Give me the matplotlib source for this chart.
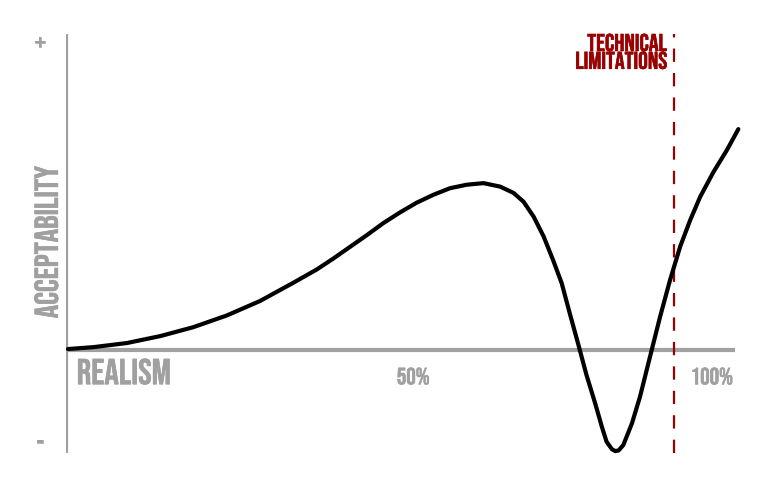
import matplotlib
matplotlib.use('Agg')
import matplotlib.pyplot as plt
import matplotlib.patheffects as pe

# 真实感 (%) 与 接受度 曲线读数
realism = [0.3, 4.1, 9.1, 14.1, 19.0, 24.0, 29.0, 34.0, 37.5, 40.0, 42.5, 45.0,
           47.4, 49.9, 52.4, 54.9, 57.4, 59.9, 62.4, 64.9, 66.9, 68.4, 69.9,
           71.4, 72.8, 74.1, 75.3, 76.6, 77.8, 79.1, 80.1, 80.8, 81.6, 82.1,
           82.6, 83.3, 84.6, 85.8, 87.3, 88.8, 90.3, 91.8, 93.3, 94.8, 96.8,
           98.8, 100.5]
acceptability = [0.3, 0.9, 2.2, 4.4, 7.2, 10.9, 15.5, 21.3, 25.5, 29.0, 32.7, 36.4,
                 40.1, 43.5, 46.6, 49.1, 51.2, 52.3, 52.8, 51.7, 49.7, 46.9, 42.2,
                 35.9, 28.5, 21.1, 11.6, 1.6, -7.9, -16.9, -24.3, -29.0, -31.4, -32.0,
                 -31.8, -30.1, -23.2, -14.8, -2.1, 10.5, 22.2, 32.7, 41.1, 48.5, 56.4,
                 63.3, 69.9]
tech_limit = 90.9
tick_pos = [50, 100]
tick_labels = ['50%', '100%']

GRAY = '#a0a0a0'
RED = '#990000'
FONT = ['Bebas Neue', 'DejaVu Sans']


def heavy(color):
    # 文字稍微加粗
    return [pe.withStroke(linewidth=0.4, foreground=color)]


fig = plt.figure(figsize=(7.82, 4.88), dpi=100)
ax = fig.add_axes([66 / 782, 35 / 488, 669 / 782, 419 / 488])
ax.set_xlim(0, 100)
ax.set_ylim(-32.6, 100)
for s in ax.spines.values():
    s.set_visible(False)
ax.set_xticks([])
ax.set_yticks([])

# 坐标轴
ax.axhline(0, color=GRAY, lw=3, solid_capstyle='butt')
ax.axvline(0, color=GRAY, lw=3, solid_capstyle='butt')

# 技术限制虚线
ax.axvline(tech_limit, color=RED, lw=1.6, ls=(0, (6, 5)))

ax.plot(realism, acceptability, color='black', lw=3, clip_on=False,
        solid_joinstyle='round', solid_capstyle='round')

ax.text(-3.9, 97.5, '+', color=GRAY, fontsize=21, path_effects=heavy(GRAY),
        ha='center', va='center', family=FONT)
ax.text(-3.9, -28.8, '-', color=GRAY, fontsize=21, path_effects=heavy(GRAY),
        ha='center', va='center', family=FONT)
ax.text(-3.0, 34.2, 'ACCEPTABILITY', color=GRAY, fontsize=24, path_effects=heavy(GRAY),
        rotation=90, ha='center', va='center', family=FONT)
ax.text(1.6, -2.6, 'REALISM', color=GRAY, fontsize=26, path_effects=heavy(GRAY),
        ha='left', va='top', family=FONT)
for p, lab in zip(tick_pos, tick_labels):
    ha = 'center' if p < 100 else 'right'
    x = p + 1.9 if p < 100 else p - 0.3
    ax.text(x, -5.5, lab, color=GRAY, fontsize=17, path_effects=heavy(GRAY),
            ha=ha, va='top', family=FONT)
ax.text(tech_limit - 1.1, 100, 'TECHNICAL\nLIMITATIONS', color=RED, fontsize=17.5,
        path_effects=heavy(RED), ha='right', va='top', linespacing=1.05, family=FONT)

fig.savefig('out.png', dpi=100)
